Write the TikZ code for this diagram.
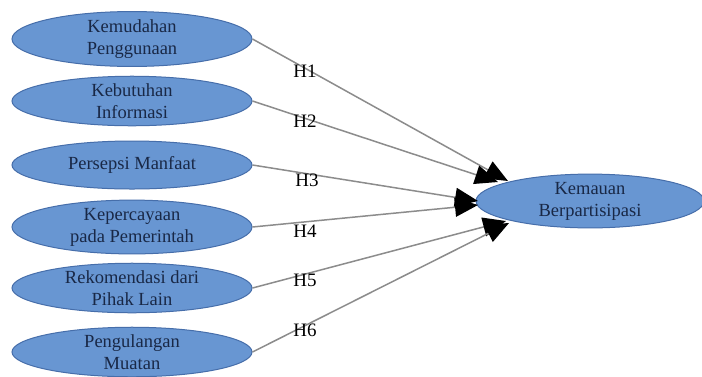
\documentclass[tikz,border=0pt]{standalone}
\usepackage{fontspec}
\setmainfont{Liberation Serif}
\usetikzlibrary{arrows.meta,shapes.geometric}
\definecolor{ellfill}{RGB}{104,150,210}
\definecolor{ellline}{RGB}{70,110,170}
\definecolor{txt}{RGB}{25,40,70}
\definecolor{lin}{RGB}{140,140,140}
\begin{document}
\begin{tikzpicture}[x=1pt,y=-1pt,
  ell/.style={ellipse, draw=ellline, line width=1pt, fill=ellfill, text=txt,
    minimum width=240pt, minimum height=48pt, inner sep=0pt, align=center,
    font=\fontsize{18.5}{22}\selectfont},
  hyp/.style={text=black, font=\fontsize{19}{20}\selectfont, inner sep=1pt},
  conn/.style={draw=lin, line width=1.5pt, -{Triangle[length=23pt,width=19pt,fill=black,color=black]}}
]
\useasboundingbox (0,0) rectangle (702,376);
\fill[white] (0,0) rectangle (702,376);
\node[ell] (a) at (132,39) {Kemudahan\\Penggunaan};
\node[ell] (b) at (132,101) {Kebutuhan\\Informasi};
\node[ell] (c) at (132,165) {Persepsi Manfaat};
\node[ell] (d) at (132,227) {Kepercayaan\\pada Pemerintah};
\node[ell] (e) at (132,288) {Rekomendasi dari\\Pihak Lain};
\node[ell] (f) at (132,352) {Pengulangan\\Muatan};
\node[ell, minimum width=228pt, minimum height=52pt] (r) at (590,201) {Kemauan\\Berpartisipasi};
\coordinate (t1) at (508,181);
\coordinate (t2) at (498,182);
\coordinate (t3) at (478,201);
\coordinate (t4) at (478,205);
\coordinate (t5) at (506,221);
\coordinate (t6) at (509,223);
\draw[conn] (a.east) -- (t1);
\draw[conn] (b.east) -- (t2);
\draw[conn] (c.east) -- (t3);
\draw[conn] (d.east) -- (t4);
\draw[conn] (e.east) -- (t5);
\draw[conn] (f.east) -- (t6);
\node[hyp] (h1) at (305,71) {H1};
\node[hyp] (h2) at (305,121) {H2};
\node[hyp] (h3) at (307,180) {H3};
\node[hyp] (h4) at (305,231) {H4};
\node[hyp] (h5) at (305,280) {H5};
\node[hyp] (h6) at (305,330) {H6};
\end{tikzpicture}
\end{document}
